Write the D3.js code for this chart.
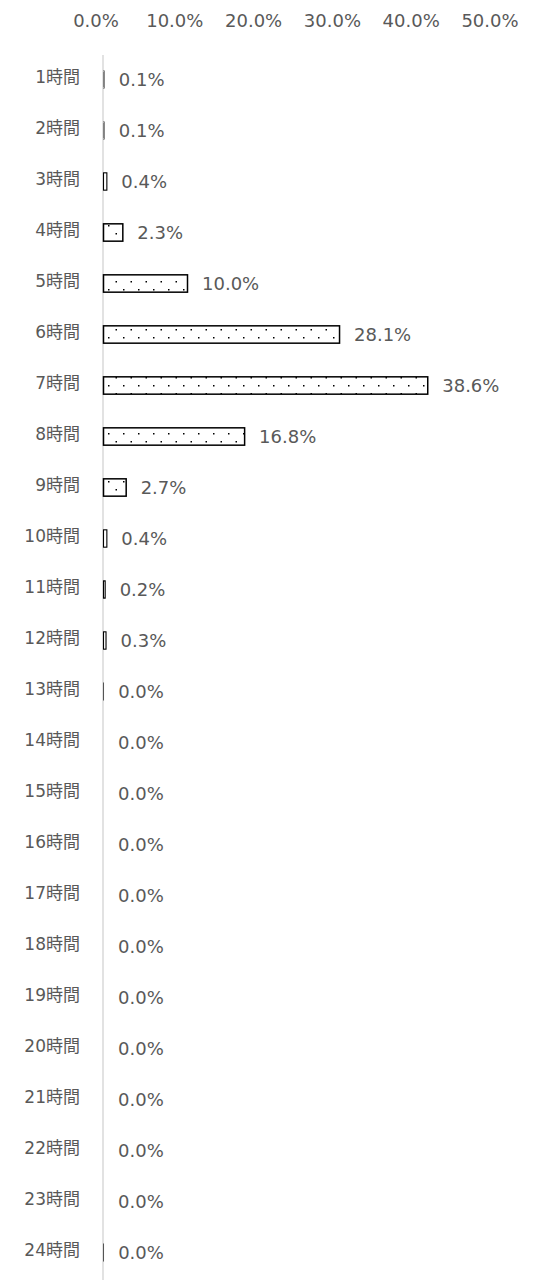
<!DOCTYPE html>
<html><head><meta charset="utf-8">
<script src="https://cdn.jsdelivr.net/npm/d3@7"></script>
<style>
html,body{margin:0;padding:0;background:#fff;}
text{font-family:"DejaVu Sans","Noto Sans CJK JP",sans-serif;fill:#595959;}
</style></head>
<body>
<svg id="chart" width="558" height="1280"></svg>
<script>
const categories = ["1時間","2時間","3時間","4時間","5時間","6時間","7時間","8時間","9時間","10時間","11時間","12時間","13時間","14時間","15時間","16時間","17時間","18時間","19時間","20時間","21時間","22時間","23時間","24時間"];
const values = [0.1,0.1,0.4,2.3,10.0,28.1,38.6,16.8,2.7,0.4,0.2,0.3,0.02,0,0,0,0,0,0,0,0,0,0,0.02];
const tickValues = [0,10,20,30,40,50];

const svg = d3.select("#chart");
const fs = 18;

const x = d3.scaleLinear().domain([0,50]).range([103,523]);
const xLabels = d3.scaleLinear().domain([0,50]).range([96,490]);
const y = d3.scaleBand().domain(categories).range([54,1278]).paddingInner(0.66).paddingOuter(0.33);

const defs = svg.append("defs");
const pat = defs.append("pattern").attr("id","dots").attr("patternUnits","userSpaceOnUse")
  .attr("width",15).attr("height",16).attr("x",0).attr("y",0);
pat.append("rect").attr("width",15).attr("height",16).attr("fill","#fff");
pat.append("rect").attr("x",3).attr("y",1).attr("width",1.5).attr("height",1.5).attr("fill","#000");
pat.append("rect").attr("x",10.5).attr("y",9).attr("width",1.5).attr("height",1.5).attr("fill","#000");

// top tick labels
svg.append("g").selectAll("text").data(tickValues).join("text")
  .attr("x",d=>xLabels(d)).attr("y",27).attr("text-anchor","middle")
  .attr("font-size",fs).text(d=>d.toFixed(1)+"%");

// axis line
svg.append("line").attr("x1",x(0)).attr("x2",x(0)).attr("y1",55).attr("y2",1280)
  .attr("stroke","#d9d9d9").attr("stroke-width",1.5);

// category labels
svg.append("g").selectAll("text").data(categories).join("text")
  .attr("x",80).attr("y",d=>y(d)+y.bandwidth()/2).attr("dy","0.2em")
  .attr("text-anchor","end").attr("font-size",fs-1).text(d=>d);

// bars
svg.append("g").selectAll("rect").data(values.map((v,i)=>({v,c:categories[i]})).filter(d=>d.v>0)).join("rect")
  .attr("x",x(0)+0.5).attr("y",d=>y(d.c)).attr("width",d=>Math.max(0,x(d.v)-x(0)))
  .attr("height",y.bandwidth()).attr("fill","url(#dots)")
  .attr("stroke",d=>d.v<0.15?"#555":"#000")
  .attr("stroke-width",d=>d.v<0.15?0.7:(d.v<0.5?1.1:1.5));

// value labels
svg.append("g").selectAll("text").data(values.map((v,i)=>({v,c:categories[i]}))).join("text")
  .attr("x",d=>x(d.v)+15).attr("y",d=>y(d.c)+y.bandwidth()/2).attr("dy","0.38em")
  .attr("font-size",fs).text(d=>d.v.toFixed(1)+"%");
</script>
</body></html>
